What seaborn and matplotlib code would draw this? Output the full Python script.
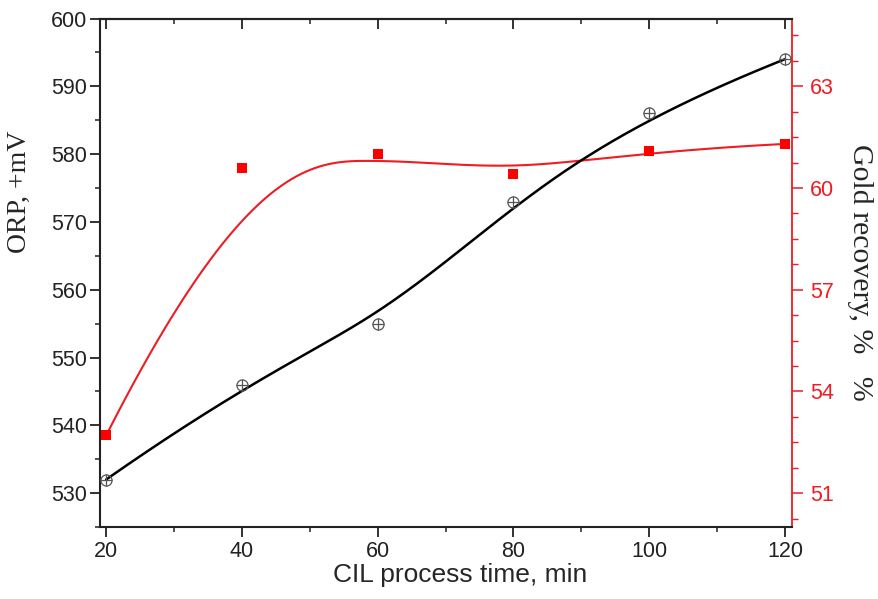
import numpy as np
import pandas as pd
import matplotlib
matplotlib.use("Agg")
import matplotlib.pyplot as plt
from matplotlib.ticker import MultipleLocator
import seaborn as sns

# ------------------------------------------------------------
# data
# ------------------------------------------------------------
time_min = [20, 40, 60, 80, 100, 120]
orp_mv = [532, 546, 555, 573, 586, 594]
gold_recovery = [52.7, 60.6, 61.0, 60.4, 61.1, 61.3]

orp_ticks = [530, 540, 550, 560, 570, 580, 590, 600]
gold_ticks = [51, 54, 57, 60, 63]
time_ticks = [20, 40, 60, 80, 100, 120]

RED = "#ee1d23"


def bspline(xs, ys, n=400, k=3):
    # clamped cubic B-spline using the data points as control points
    xs = np.asarray(xs, float)
    ys = np.asarray(ys, float)
    m = len(xs)
    knots = np.r_[np.zeros(k), np.arange(0, m - k + 1), np.full(k, m - k)].astype(float)
    t = np.linspace(0, m - k, n)
    t[-1] -= 1e-9
    # Cox-de Boor
    B = np.zeros((n, len(knots) - 1))
    for i in range(len(knots) - 1):
        B[:, i] = (t >= knots[i]) & (t < knots[i + 1])
    for d in range(1, k + 1):
        Bn = np.zeros((n, len(knots) - 1 - d))
        for i in range(len(knots) - 1 - d):
            a = knots[i + d] - knots[i]
            b = knots[i + d + 1] - knots[i + 1]
            left = (t - knots[i]) / a * B[:, i] if a > 0 else 0
            right = (knots[i + d + 1] - t) / b * B[:, i + 1] if b > 0 else 0
            Bn[:, i] = left + right
        B = Bn
    return B @ xs, B @ ys


df = pd.DataFrame({"time": time_min, "orp": orp_mv, "gold": gold_recovery})
bx, by = bspline(df["time"], df["orp"])
rx, ry = bspline(df["time"], df["gold"])

# ------------------------------------------------------------
# figure
# ------------------------------------------------------------
sns.set_style("ticks")
plt.rcParams["font.family"] = ["Liberation Sans", "DejaVu Sans"]

fig = plt.figure(figsize=(8.79, 5.99), dpi=100)
ax = fig.add_axes([0.1138, 0.1202, 0.7869, 0.8489])
ax2 = ax.twinx()

# black curve on top of the red one
ax.set_zorder(ax2.get_zorder() + 1)
ax.patch.set_visible(False)

# --- gold recovery (right axis, red) ---
sns.lineplot(x=rx, y=ry, sort=False, estimator=None, color=RED, lw=1.5, ax=ax2)
sns.scatterplot(x="time", y="gold", data=df, marker="s", s=55, color="#ff0000",
                linewidth=0, ax=ax2, zorder=3)

# --- ORP (left axis, black) ---
sns.lineplot(x=bx, y=by, sort=False, estimator=None, color="black", lw=1.8, ax=ax)
sns.lineplot(x="time", y="orp", data=df, marker="o", ms=8, mfc="none", mec="#555555",
             mew=0.9, linestyle="", ax=ax, zorder=3)
sns.lineplot(x="time", y="orp", data=df, marker="+", ms=8, mec="#555555",
             mew=0.9, linestyle="", ax=ax, zorder=3)

# --- axes limits / ticks ---
ax.set_xlim(19.1, 121)
ax.set_ylim(525, 600)
ax.set_xticks(time_ticks)
ax.set_yticks(orp_ticks)
ax.xaxis.set_minor_locator(MultipleLocator(10))
ax.yaxis.set_minor_locator(MultipleLocator(5))

ax2.set_ylim(50, 65)
ax2.set_yticks(gold_ticks)
ax2.yaxis.set_minor_locator(MultipleLocator(0.75))

ax.tick_params(axis="both", which="major", direction="out", length=7, width=1.3,
               labelsize=15.5, colors="#222222", pad=3)
ax.tick_params(axis="both", which="minor", direction="out", length=3.5, width=1.1,
               colors="#222222")
ax.tick_params(axis="y", pad=2)
ax.tick_params(axis="y", which="both", right=False)

ax2.tick_params(axis="y", which="major", direction="out", length=8, width=1.1,
                labelsize=15.5, colors=RED, pad=5)
ax2.tick_params(axis="y", which="minor", direction="out", length=4, width=1.0,
                colors=RED)

# inward ticks along the top edge
top = ax.secondary_xaxis("top")
top.set_xticks(time_ticks)
top.xaxis.set_minor_locator(MultipleLocator(10))
top.tick_params(axis="x", which="major", direction="in", length=7, width=1.3,
                labeltop=False, colors="#222222")
top.tick_params(axis="x", which="minor", direction="in", length=3.5, width=1.1,
                colors="#222222")
top.spines["top"].set_linewidth(1.5)
top.spines["top"].set_color("#222222")

for side in ["left", "bottom", "top"]:
    ax.spines[side].set_linewidth(1.5)
    ax.spines[side].set_color("#222222")
    ax2.spines[side].set_visible(False)
ax.spines["right"].set_visible(False)
ax2.spines["right"].set_color(RED)
ax2.spines["right"].set_linewidth(1.3)

# --- labels ---
ax.set_xlabel("CIL process time, min", fontsize=19, labelpad=4)
ax.xaxis.set_label_coords(0.52, -0.07)
ax.xaxis.label.set_va("top")
ax.set_ylabel("ORP, +mV", fontsize=20, family=["Liberation Serif", "DejaVu Serif"])
ax.yaxis.set_label_coords(-0.098, 0.66)

ax2.set_ylabel("Gold recovery, %   %", fontsize=21.5, rotation=270, va="bottom",
               family=["Liberation Serif", "DejaVu Serif"])
ax2.yaxis.set_label_coords(1.08, 0.5)

fig.savefig("out.png", dpi=100)
